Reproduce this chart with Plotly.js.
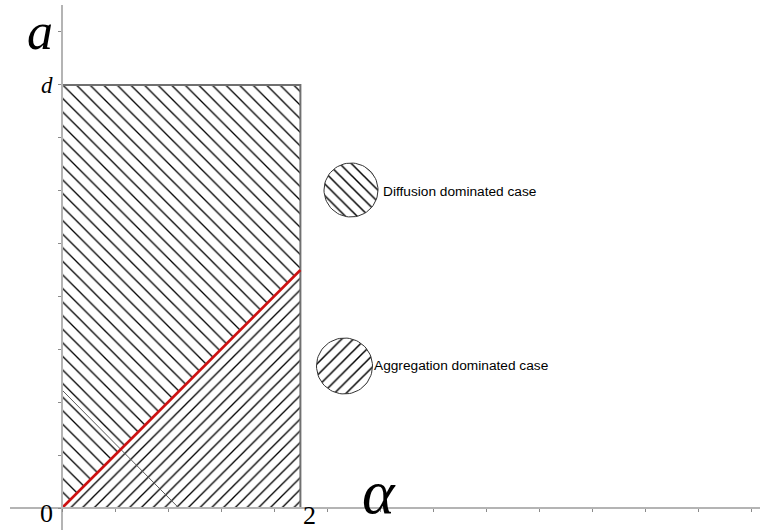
<!DOCTYPE html>
<html>
<head>
<meta charset="utf-8">
<script src="https://cdn.plot.ly/plotly-3.0.1.min.js"></script>
<style>html,body{margin:0;padding:0;background:#fff;}#chart{width:763px;height:532px;}</style>
</head>
<body>
<div id="chart"></div>
<script>
// ---- data (alpha on x, a on y, a measured in units of d) ----
var dValue = 1;
var alphaMax = 2;
var rectAlpha = [0, 0, 2, 2, 0];
var rectA = [0, 1, 1, 0, 0];
var redAlpha = [0, 2];
var redA = [0, 0.5626];
var upperAlpha = [0, 2, 2, 0, 0];
var upperA = [0, 0.5626, 1, 1, 0];
var lowerAlpha = [0, 2, 2, 0];
var lowerA = [0, 0, 0.5626, 0];
var grayAlpha = [0, 0.98];
var grayA = [0.279, 0];
var legendLabels = ['Diffusion dominated case', 'Aggregation dominated case'];
var legendShapes = ['\\', '/'];

// ---- layout helpers (pixel geometry) ----
var W = 763, H = 532;
var ox = 62, oy = 508;          // origin in px
var pxPerAlpha = 119.2, pxPerA = 423;
var xL = 10, xR = 760, yT = 5, yB = 530;

function circlePts(cx, cy, r) {
  var xs = [], ys = [];
  for (var i = 0; i <= 72; i++) {
    var t = i / 72 * 2 * Math.PI;
    xs.push(cx + r * Math.cos(t));
    ys.push(cy + r * Math.sin(t));
  }
  return {x: xs, y: ys};
}
var c1 = circlePts(351, 190, 27);
var c2 = circlePts(344.5, 366, 28);

var traces = [
  {x: upperAlpha, y: upperA, mode: 'lines', fill: 'toself', line: {width: 0, color: 'rgba(0,0,0,0)'},
   fillcolor: 'white', fillpattern: {shape: '\\', size: 9.6, solidity: 0.14, fgcolor: 'black', bgcolor: 'white'}},
  {x: lowerAlpha, y: lowerA, mode: 'lines', fill: 'toself', line: {width: 0, color: 'rgba(0,0,0,0)'},
   fillcolor: 'white', fillpattern: {shape: '/', size: 8.3, solidity: 0.16, fgcolor: 'black', bgcolor: 'white'}},
  {x: rectAlpha, y: rectA, mode: 'lines', line: {color: '#707070', width: 2}},
  {x: grayAlpha, y: grayA, mode: 'lines', line: {color: '#5a5a5a', width: 1}},
  {x: redAlpha, y: redA, mode: 'lines', line: {color: '#cc1111', width: 2.6}},
  {x: c1.x, y: c1.y, xaxis: 'x2', yaxis: 'y2', mode: 'lines', fill: 'toself', line: {color: '#333', width: 1},
   fillcolor: 'white', fillpattern: {shape: legendShapes[0], size: 8.3, solidity: 0.18, fgcolor: 'black', bgcolor: 'white'}},
  {x: c2.x, y: c2.y, xaxis: 'x2', yaxis: 'y2', mode: 'lines', fill: 'toself', line: {color: '#333', width: 1},
   fillcolor: 'white', fillpattern: {shape: legendShapes[1], size: 8.3, solidity: 0.18, fgcolor: 'black', bgcolor: 'white'}}
];

var serif = 'Liberation Serif, DejaVu Serif, serif';
var sans = 'Liberation Sans, Arial, sans-serif';
var layout = {
  width: W, height: H, autosize: false,
  margin: {l: 0, r: 0, t: 0, b: 0, pad: 0},
  paper_bgcolor: 'white', plot_bgcolor: 'rgba(0,0,0,0)',
  showlegend: false, hovermode: false,
  xaxis: {
    domain: [xL / W, xR / W],
    range: [(xL - ox) / pxPerAlpha, (xR - ox) / pxPerAlpha],
    anchor: 'free', position: (H - oy) / H,
    showgrid: false, zeroline: false, showline: true, linecolor: '#b4b4b4', linewidth: 2,
    ticks: 'outside', ticklen: 3, tickwidth: 1, tickcolor: '#8a8a8a',
    tick0: 0, dtick: 53 / pxPerAlpha, showticklabels: false, fixedrange: true
  },
  yaxis: {
    domain: [(H - yB) / H, (H - yT) / H],
    range: [(oy - yB) / pxPerA, (oy - yT) / pxPerA],
    anchor: 'free', position: ox / W,
    showgrid: false, zeroline: false, showline: true, linecolor: '#b4b4b4', linewidth: 2,
    ticks: 'outside', ticklen: 3, tickwidth: 1, tickcolor: '#8a8a8a',
    tick0: 0, dtick: 53 / pxPerA, showticklabels: false, fixedrange: true
  },
  xaxis2: {domain: [0, 1], range: [0, W], anchor: 'y2', visible: false, fixedrange: true},
  yaxis2: {domain: [0, 1], range: [H, 0], anchor: 'x2', visible: false, fixedrange: true},
  annotations: [
    {xref: 'paper', yref: 'paper', x: 40 / W, y: 1 - 31 / H, text: '<i>a</i>', showarrow: false,
     font: {family: serif, size: 52, color: 'black'}, xanchor: 'center', yanchor: 'middle'},
    {xref: 'x', yref: 'y', x: (47 - ox) / pxPerAlpha, y: dValue, text: '<i>d</i>', showarrow: false,
     font: {family: serif, size: 23, color: 'black'}, xanchor: 'center', yanchor: 'middle'},
    {xref: 'x', yref: 'y', x: (46.5 - ox) / pxPerAlpha, y: (oy - 513) / pxPerA, text: '0', showarrow: false,
     font: {family: serif, size: 26, color: 'black'}, xanchor: 'center', yanchor: 'middle'},
    {xref: 'x', yref: 'y', x: alphaMax + 9 / pxPerAlpha, y: (oy - 515) / pxPerA, text: '2', showarrow: false,
     font: {family: serif, size: 26, color: 'black'}, xanchor: 'center', yanchor: 'middle'},
    {xref: 'x', yref: 'y', x: (379 - ox) / pxPerAlpha, y: (oy - 492) / pxPerA, text: '<i>α</i>', showarrow: false,
     font: {family: serif, size: 62, color: 'black'}, xanchor: 'center', yanchor: 'middle'},
    {xref: 'x2', yref: 'y2', x: 381, y: 191, text: legendLabels[0], showarrow: false,
     font: {family: sans, size: 13.7, color: 'black'}, xanchor: 'left', yanchor: 'middle'},
    {xref: 'x2', yref: 'y2', x: 372, y: 365, text: legendLabels[1], showarrow: false,
     font: {family: sans, size: 13.7, color: 'black'}, xanchor: 'left', yanchor: 'middle'}
  ]
};

Plotly.newPlot('chart', traces, layout, {staticPlot: true, displayModeBar: false});
</script>
</body>
</html>
